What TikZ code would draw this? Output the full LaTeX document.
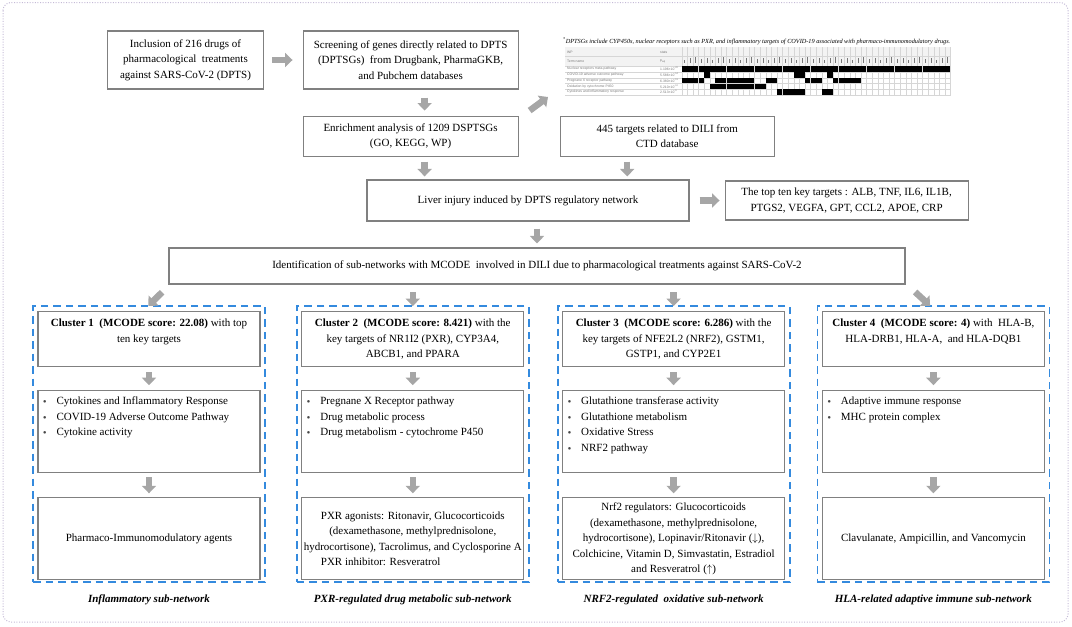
\documentclass[tikz,border=0pt]{standalone}
\usepackage{fontspec}
\setmainfont{Liberation Serif}
\setsansfont{Liberation Sans}
\usepackage{graphicx}
\usetikzlibrary{positioning, arrows.meta}

\definecolor{boxgray}{RGB}{128,128,128}
\definecolor{arrgray}{RGB}{166,166,166}
\definecolor{clusblue}{RGB}{52,138,222}
\definecolor{framec}{RGB}{196,186,214}
\definecolor{gridc}{RGB}{214,214,214}
\definecolor{hdrgray}{RGB}{243,243,243}
\definecolor{dotgray}{RGB}{70,70,70}
\definecolor{tinygray}{RGB}{120,120,120}

\newcommand{\fs}{\fontsize{11}{15.5}\selectfont}
\newcommand{\itm}{\makebox[13.4pt][l]{\textcolor{dotgray}{\raisebox{1pt}{\scalebox{0.62}{$\bullet$}}}}}

\tikzstyle{gbox}=[draw=boxgray, line width=1.1pt, inner sep=0pt, align=center, font=\fs]
\tikzstyle{clus}=[draw=clusblue, line width=1.8pt, dash pattern=on 7.5pt off 5pt, inner sep=0pt, minimum width=232pt, minimum height=276pt]
\tikzstyle{blk}=[draw=arrgray, line width=6.5pt, -{Triangle[length=7.5pt,width=14pt]}]
\tikzstyle{txt}=[inner sep=0pt, align=center, font=\fs]
\tikzstyle{capt}=[inner sep=0pt, font=\fs\bfseries\itshape]
\tikzstyle{tinyt}=[inner sep=0pt, text=tinygray, font=\sffamily\fontsize{3.4}{4}\selectfont]

\begin{document}
\begin{tikzpicture}[x=1pt, y=-1pt]
    \useasboundingbox (0,0) rectangle (1072,627);
    \draw[framec, line width=1pt, dash pattern=on 1pt off 1.6pt, rounded corners=8pt] (3,2.5) rectangle (1068,622);

    % upper part
    \node	[gbox, minimum width=156pt, minimum height=58pt]	(incl) at (185.5,60) {Inclusion of 216 drugs of\\pharmacological\ \ treatments\\against SARS-CoV-2 (DPTS)};
    \node	[gbox, minimum width=215pt, minimum height=58pt]	(screen) [right=38.5pt of incl] {Screening of genes directly related to DPTS\\(DPTSGs)\ \ from Drugbank, PharmaGKB,\\and Pubchem databases};
    \node	[gbox, minimum width=215pt, minimum height=40pt]	(enrich) [below=26pt of screen] {Enrichment analysis of 1209 DSPTSGs\\(GO, KEGG, WP)};
    \node	[gbox, minimum width=214pt, minimum height=40pt]	(ctd) [right=41pt of enrich] {445 targets related to DILI from\\CTD database};
    \node	[gbox, minimum width=322pt, minimum height=41pt]	(liver) at (528,200.5) {Liver injury induced by DPTS regulatory network};
    \node	[gbox, minimum width=243pt, minimum height=39pt]	(top10) [right=35pt of liver] {The top ten key targets : ALB, TNF, IL6, IL1B,\\PTGS2, VEGFA, GPT, CCL2, APOE, CRP};
    \node	[gbox, minimum width=736pt, minimum height=36pt]	(ident) at (537,266) {Identification of sub-networks with MCODE\ \ involved in DILI due to pharmacological treatments against SARS-CoV-2};

    % enrichment table
    \node	[inner sep=0pt, anchor=west, font=\fontsize{6.25}{8}\selectfont\itshape]	(tabcap) at (563,41) {\textsuperscript{\upshape *}DPTSGs include CYP450s, nuclear receptors such as PXR, and inflammatory targets of COVID-19 associated with pharmaco-immunomodulatory drugs.};
    \fill[hdrgray] (565,47) rectangle (951,66.2);
    \foreach \y in {56.5,66.2,72,77.7,83.5,89.2,95}
        \draw[gridc, line width=0.3pt] (565,\y) -- (951,\y);
    \foreach \i in {0,...,48}
        \draw[gridc, line width=0.3pt] ({681.7+5.6*\i},47) -- ({681.7+5.6*\i},95);
    \foreach \i in {0,...,47} {
        \pgfmathsetmacro\h{2.5+mod(\i*7,5)*0.8}
        \draw[tinygray, line width=0.5pt] ({684.5+5.6*\i},62.5) -- ++(0,-\h);
    }
    \foreach \r/\cols in {0/{0,...,47}, 1/{4,20,21,26}, 2/{0,1,2,3,6,7,8,9,10,11,12,15,16,22,23,24,27,28,29,30,31}, 3/{5,...,14}, 4/{17,18,19,20,21,25,26}}
        \foreach \c in \cols
            \fill[black] ({681.85+5.6*\c},{66.35+5.76*\r}) rectangle +(5.3,5.45);
    \node	[tinyt, anchor=west]	(hwp) at (567,52) {WP};
    \node	[tinyt, anchor=west]	(hst) at (660,52) {stats};
    \node	[tinyt, anchor=west]	(hterm) at (567,61.3) {Term name};
    \node	[tinyt, anchor=west]	(hpadj) at (660,61.3) {p\textsubscript{adj}};
    \foreach \i/\term/\pv in {1/Nuclear receptors meta-pathway/1.196×10\textsuperscript{-22}, 2/COVID-19 adverse outcome pathway/5.586×10\textsuperscript{-14}, 3/Pregnane X receptor pathway/6.380×10\textsuperscript{-13}, 4/Oxidation by cytochrome P450/5.210×10\textsuperscript{-12}, 5/Cytokines and inflammatory response/2.513×10\textsuperscript{-9}} {
        \node	[tinyt, anchor=west]	(term\i) at (567,{63.3+5.76*\i}) {\term};
        \node	[tinyt, anchor=west]	(padj\i) at (660,{63.3+5.76*\i}) {\pv};
    }
    \coordinate (tabsw) at (548,97);

    % clusters
    \node	[clus]	(c1) at (149,444) {};
    \node	[clus]	(c2) [right=30pt of c1] {};
    \node	[clus]	(c3) [right=27pt of c2] {};
    \node	[clus]	(c4) [right=26pt of c3] {};

    \node	[gbox, minimum width=222pt, minimum height=55pt]	(h1) [below=6pt of c1.north] {};
    \node	[txt]	(ht1) [below=8pt of h1.north] {\textbf{Cluster 1\ \ (MCODE score: 22.08)} with top\\ten key targets};
    \node	[gbox, minimum width=222pt, minimum height=82pt]	(b1) [below=23pt of h1] {};
    \node	[txt, align=left, anchor=north west]	(bt1) at ([shift={(5.5pt,-6.5pt)}]b1.north west) {\itm Cytokines and Inflammatory Response\\\itm COVID-19 Adverse Outcome Pathway\\\itm Cytokine activity};
    \node	[gbox, minimum width=222pt, minimum height=82pt]	(d1) [below=24pt of b1] {Pharmaco-Immunomodulatory agents};
    \node	[capt]	(cap1) at ([yshift=-17pt]c1.south) {Inflammatory sub-network};

    \node	[gbox, minimum width=222pt, minimum height=55pt]	(h2) [below=6pt of c2.north] {};
    \node	[txt]	(ht2) [below=8pt of h2.north] {\textbf{Cluster 2\ \ (MCODE score: 8.421)} with the\\key targets of NR1I2 (PXR), CYP3A4,\\ABCB1, and PPARA};
    \node	[gbox, minimum width=222pt, minimum height=82pt]	(b2) [below=23pt of h2] {};
    \node	[txt, align=left, anchor=north west]	(bt2) at ([shift={(5.5pt,-6.5pt)}]b2.north west) {\itm Pregnane X Receptor pathway\\\itm Drug metabolic process\\\itm Drug metabolism - cytochrome P450};
    \node	[gbox, minimum width=222pt, minimum height=82pt]	(d2) [below=24pt of b2] {PXR agonists: Ritonavir, Glucocorticoids\\(dexamethasone, methylprednisolone,\\hydrocortisone), Tacrolimus, and Cyclosporine A\\\rlap{PXR inhibitor: Resveratrol}\hphantom{PXR agonists: Ritonavir, Glucocorticoids}};
    \node	[capt]	(cap2) at ([yshift=-17pt]c2.south) {PXR-regulated drug metabolic sub-network};

    \node	[gbox, minimum width=222pt, minimum height=55pt]	(h3) [below=6pt of c3.north] {};
    \node	[txt]	(ht3) [below=8pt of h3.north] {\textbf{Cluster 3\ \ (MCODE score: 6.286)} with the\\key targets of NFE2L2 (NRF2), GSTM1,\\GSTP1, and CYP2E1};
    \node	[gbox, minimum width=222pt, minimum height=82pt]	(b3) [below=23pt of h3] {};
    \node	[txt, align=left, anchor=north west]	(bt3) at ([shift={(5.5pt,-6.5pt)}]b3.north west) {\itm Glutathione transferase activity\\\itm Glutathione metabolism\\\itm Oxidative Stress\\\itm NRF2 pathway};
    \node	[gbox, minimum width=222pt, minimum height=82pt]	(d3) [below=24pt of b3] {Nrf2 regulators: Glucocorticoids\\(dexamethasone, methylprednisolone,\\hydrocortisone), Lopinavir/Ritonavir ($\downarrow$),\\Colchicine, Vitamin D, Simvastatin, Estradiol\\and Resveratrol ($\uparrow$)};
    \node	[capt]	(cap3) at ([yshift=-17pt]c3.south) {NRF2-regulated\ \ oxidative sub-network};

    \node	[gbox, minimum width=222pt, minimum height=55pt]	(h4) [below=6pt of c4.north] {};
    \node	[txt]	(ht4) [below=8pt of h4.north] {\textbf{Cluster 4\ \ (MCODE score: 4)} with\ \ HLA-B,\\HLA-DRB1, HLA-A,\ \ and HLA-DQB1};
    \node	[gbox, minimum width=222pt, minimum height=82pt]	(b4) [below=23pt of h4] {};
    \node	[txt, align=left, anchor=north west]	(bt4) at ([shift={(5.5pt,-6.5pt)}]b4.north west) {\itm Adaptive immune response\\\itm MHC protein complex};
    \node	[gbox, minimum width=222pt, minimum height=82pt]	(d4) [below=24pt of b4] {Clavulanate, Ampicillin, and Vancomycin};
    \node	[capt]	(cap4) at ([yshift=-17pt]c4.south) {HLA-related adaptive immune sub-network};

    % arrows
    \draw[blk, shorten <=8pt, shorten >=10pt] (incl) -- (screen);
    \draw[blk, shorten <=8pt, shorten >=5pt] ([xshift=14pt]screen.south) -- ([xshift=14pt]enrich.north);
    \draw[blk] ([shift={(11pt,5pt)}]enrich.north east) -- (tabsw);
    \draw[blk, shorten <=5pt, shorten >=3pt] ([xshift=14pt]enrich.south) -- ([xshift=14pt]enrich.south |- liver.north);
    \draw[blk, shorten <=5pt, shorten >=3pt] ([xshift=-40pt]ctd.south) -- ([xshift=-40pt]ctd.south |- liver.north);
    \draw[blk, shorten <=10pt, shorten >=5pt] (liver.east) -- (liver.east -| top10.west);
    \draw[blk, shorten <=7pt, shorten >=4pt] (ident.north |- liver.south) -- (ident.north);
    \draw[blk, shorten <=11pt, shorten >=-1pt] ([xshift=-367pt]ident.south) -- (c1.north);
    \draw[blk, shorten <=7.5pt, shorten >=-1pt] (c2.north |- ident.south) -- (c2.north);
    \draw[blk, shorten <=7.5pt, shorten >=-1pt] (c3.north |- ident.south) -- (c3.north);
    \draw[blk, shorten <=11pt, shorten >=-1pt] ([xshift=370pt]ident.south) -- ([xshift=-4pt]c4.north);
    \draw[blk, shorten <=5pt, shorten >=5pt] (h1) -- (b1);
    \draw[blk, shorten <=4pt, shorten >=4pt] (b1) -- (d1);
    \draw[blk, shorten <=5pt, shorten >=5pt] (h2) -- (b2);
    \draw[blk, shorten <=4pt, shorten >=4pt] (b2) -- (d2);
    \draw[blk, shorten <=5pt, shorten >=5pt] (h3) -- (b3);
    \draw[blk, shorten <=4pt, shorten >=4pt] (b3) -- (d3);
    \draw[blk, shorten <=5pt, shorten >=5pt] (h4) -- (b4);
    \draw[blk, shorten <=4pt, shorten >=4pt] (b4) -- (d4);
\end{tikzpicture}
\end{document}
